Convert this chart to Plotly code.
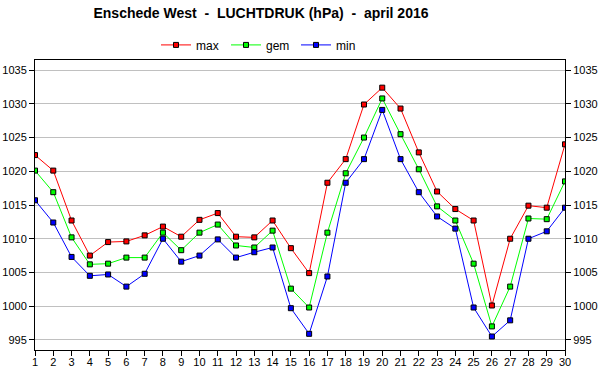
import plotly.graph_objects as go

days = list(range(1, 31))
p_max = [1022.4, 1020.1, 1012.7, 1007.5, 1009.5, 1009.6, 1010.5, 1011.8, 1010.3, 1012.8,
         1013.8, 1010.3, 1010.2, 1012.7, 1008.6, 1004.9, 1018.3, 1021.8, 1029.9, 1032.4,
         1029.3, 1022.8, 1017.0, 1014.4, 1012.7, 1000.1, 1010.0, 1014.9, 1014.6, 1024.0]
p_gem = [1020.1, 1016.9, 1010.2, 1006.2, 1006.3, 1007.2, 1007.2, 1010.9, 1008.3, 1010.9,
         1012.1, 1009.0, 1008.7, 1011.2, 1002.6, 999.8, 1010.9, 1019.7, 1025.0, 1030.8,
         1025.5, 1020.3, 1014.8, 1012.7, 1006.3, 997.0, 1002.9, 1013.0, 1012.9, 1018.5]
p_min = [1015.7, 1012.4, 1007.3, 1004.5, 1004.7, 1002.9, 1004.8, 1010.0, 1006.6, 1007.5,
         1009.9, 1007.2, 1008.0, 1008.7, 999.7, 995.9, 1004.4, 1018.3, 1021.8, 1029.1,
         1021.8, 1016.9, 1013.3, 1011.5, 999.8, 995.5, 997.9, 1010.0, 1011.1, 1014.6]
y_ticks = [995, 1000, 1005, 1010, 1015, 1020, 1025, 1030, 1035]
y_range = [993.5, 1036.5]

series = [("max", p_max, "#ff0000"), ("gem", p_gem, "#00ff00"), ("min", p_min, "#0000ff")]

FONT = "Liberation Sans, Arial, sans-serif"

fig = go.Figure()
for name, vals, col in series:
    fig.add_trace(go.Scatter(
        x=days, y=vals, name=name, mode="lines+markers",
        line=dict(color=col, width=1),
        marker=dict(symbol="square", size=5, color=col, line=dict(color="black", width=1)),
    ))
# invisible carrier trace so the right-hand axis is drawn
fig.add_trace(go.Scatter(x=days, y=p_max, yaxis="y2", mode="lines", opacity=0,
                         showlegend=False, hoverinfo="skip"))

axis_common = dict(
    range=y_range, tickvals=y_ticks, ticks="outside", ticklen=5, tickcolor="black",
    showline=True, linecolor="black", linewidth=1, zeroline=False, automargin=False,
    tickfont=dict(family=FONT, size=11, color="black"),
)

fig.update_layout(
    width=600, height=390,
    margin=dict(l=35, r=35, t=60, b=40, autoexpand=False),
    paper_bgcolor="white", plot_bgcolor="white",
    font=dict(family=FONT, color="black"),
    title=dict(
        text="<b>Enschede West\u00a0\u00a0-\u00a0\u00a0LUCHTDRUK (hPa)\u00a0\u00a0-\u00a0\u00a0april 2016</b>",
        font=dict(family=FONT, size=14, color="black"),
        x=261/600, xanchor="center", y=1-13/390, yanchor="middle", xref="container", yref="container",
    ),
    showlegend=True,
    legend=dict(orientation="h", x=(261-35)/530, xanchor="center", y=1.052, yanchor="middle",
                font=dict(family=FONT, size=12, color="black"),
                entrywidth=25, entrywidthmode="pixels", bgcolor="rgba(0,0,0,0)"),
    xaxis=dict(
        range=[1, 30], tickvals=days, ticks="outside", ticklen=5, tickcolor="black",
        showline=True, linecolor="black", linewidth=1, mirror=True, showgrid=False, zeroline=False,
        automargin=False, ticklabelstandoff=-3, tickfont=dict(family=FONT, size=11, color="black"),
    ),
    yaxis=dict(showgrid=True, gridcolor="#c0c0c0", gridwidth=1, **axis_common),
    yaxis2=dict(overlaying="y", side="right", showgrid=False, **axis_common),
)

fig.write_html("out.html", config={"displayModeBar": False},
               post_script="document.body.style.margin='0';")
